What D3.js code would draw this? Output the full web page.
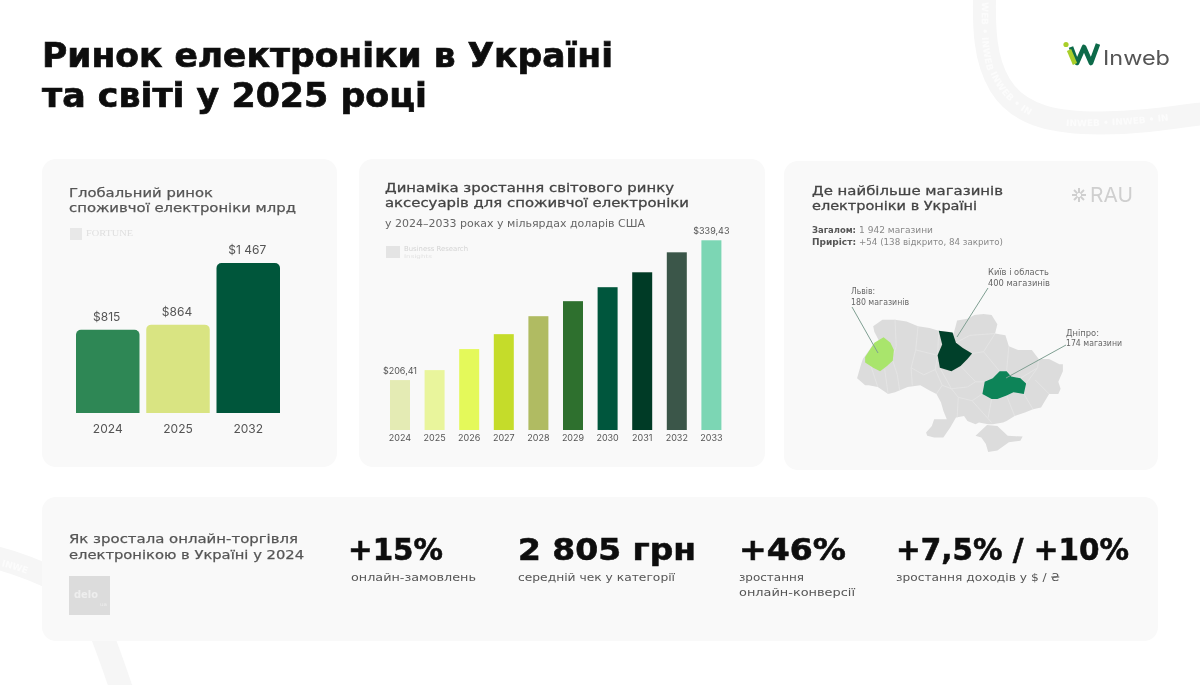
<!DOCTYPE html>
<html lang="uk"><head><meta charset="utf-8">
<script src="https://cdn.jsdelivr.net/npm/d3@7/dist/d3.min.js"></script>
<style>html,body{margin:0;padding:0;background:#fff;overflow:hidden}svg{display:block}text{font-family:"DejaVu Sans",sans-serif}</style>
</head><body><svg id="c" width="1200" height="685"></svg>
<script>
// ---- data ----
const globalYears = ["2024","2025","2032"];
const globalValues = [815,864,1467];
const globalLabels = ["$815","$864","$1 467"];
const globalColors = ["#2e8755","#d9e482","#03573b"];

const accYears = ["2024","2025","2026","2027","2028","2029","2030","2031","2032","2033"];
const accValues = [206.41,215.9,235.9,250.1,267.2,281.5,294.8,309,328,339.43];
const accLabels = ["$206,41","","","","","","","","","$339,43"];
const accColors = ["#e4ebb4","#e9f59c","#e4f95a","#c5dc2a","#b0bb62","#2f702f","#03573d","#053b27","#3b5749","#7bd6b4"];

const ukraineOutline = [[23.6,51.7],[24.4,52.05],[25.5,52.05],[26.5,51.95],[27.5,51.7],[28.5,51.6],[29.3,51.45],[30.2,51.4],[30.6,51.3],[30.9,52.0],[31.8,52.1],[32.4,52.3],[33.2,52.35],[33.9,52.3],[34.4,51.8],[34.2,51.3],[35.1,51.2],[35.4,50.6],[36.2,50.4],[37.4,50.4],[38.0,49.9],[38.9,49.9],[39.8,49.6],[40.1,49.6],[40.1,49.2],[39.7,48.6],[39.9,48.2],[39.7,47.9],[38.9,47.9],[38.2,47.1],[37.5,47.0],[36.8,46.8],[35.9,46.6],[35.2,46.3],[34.9,46.2],[34.0,46.1],[33.6,46.1],[32.8,46.2],[32.5,46.1],[31.8,46.3],[31.5,46.6],[30.8,46.5],[30.3,45.9],[29.7,45.3],[28.9,45.3],[28.3,45.4],[28.2,45.6],[28.7,46.0],[28.9,46.4],[30.0,46.4],[29.7,46.9],[29.5,47.4],[29.1,47.9],[28.5,48.1],[27.7,48.4],[26.6,48.3],[25.5,48.0],[24.9,47.9],[24.0,48.3],[23.2,48.4],[22.9,48.4],[22.2,48.8],[22.5,49.5],[22.7,49.9],[23.5,50.6],[24.1,50.9],[23.7,51.4],[23.6,51.7]];
const crimeaOutline = [[32.5,45.4],[33.5,46.05],[34.4,46.0],[35.3,45.4],[36.6,45.35],[36.4,45.1],[35.4,45.0],[34.4,44.5],[33.6,44.4],[33.4,44.9],[33.0,45.3],[32.5,45.4]];
const lvivOutline = [[23.7,50.8],[22.9,50.0],[22.9,49.7],[23.6,49.4],[24.2,49.2],[24.8,49.5],[25.3,49.8],[25.4,50.4],[25.1,50.8],[24.5,51.1],[23.7,50.8]];
const kyivOutline = [[29.3,51.45],[30.5,51.35],[30.8,50.8],[31.4,50.5],[32.2,50.2],[31.8,49.9],[31.2,49.5],[30.4,49.2],[29.4,49.4],[29.2,50.1],[29.6,50.7],[29.3,51.45]];
const dniproOutline = [[33.1,47.9],[33.3,48.6],[34.0,48.8],[34.6,49.2],[35.2,49.2],[35.6,48.9],[36.4,48.8],[36.9,48.5],[36.7,47.9],[35.8,48.0],[35.2,47.8],[34.4,47.6],[33.9,47.6],[33.1,47.9]];
const oblastBorders = [
 [[25.5,52.05],[25.6,50.6],[25.4,50.2]],[[27.5,51.7],[27.3,50.4],[26.9,49.4],[27.0,48.4]],[[25.3,49.8],[25.7,49.0],[25.9,48.1]],
 [[24.6,49.3],[24.9,47.9]],[[23.4,49.5],[24.0,48.3]],[[29.3,51.45],[29.2,50.1],[29.0,49.3],[29.6,48.4],[29.1,47.9]],
 [[27.3,50.4],[29.2,50.1]],[[26.9,49.4],[28.0,49.0],[29.0,49.3]],[[29.4,49.4],[30.4,48.2],[31.8,48.3],[32.5,48.6],[33.3,48.6]],
 [[29.6,48.4],[30.4,48.2],[31.0,47.7],[30.9,46.5]],[[31.0,47.7],[32.2,47.5],[33.1,47.9]],[[32.2,47.5],[33.9,46.2]],
 [[31.2,49.5],[32.5,48.6]],[[32.2,50.2],[33.2,50.3],[34.6,49.2]],[[30.8,50.8],[32.0,51.2],[34.2,51.3]],[[33.2,50.3],[34.2,51.3]],
 [[35.2,49.2],[35.4,50.6]],[[33.9,47.6],[33.6,46.5]],[[35.2,47.8],[35.9,46.6]],[[36.7,47.9],[37.5,47.0]],[[36.9,48.5],[37.9,49.4],[38.0,49.9]],
 [[36.4,48.8],[37.9,49.4]],[[37.7,48.7],[38.9,47.9]]];
const statValues = ["+15%","2 805 грн","+46%","+7,5% / +10%"];
const statCaptions = [["онлайн-замовлень"],["середній чек у категорії"],["зростання","онлайн-конверсії"],["зростання доходів у $ / ₴"]];

const svg = d3.select("#c");
const defs = svg.append("defs");
defs.append("filter").attr("id","soft").attr("x","-5%").attr("y","-5%").attr("width","110%").attr("height","110%")
  .append("feGaussianBlur").attr("stdDeviation",0.65);
const root = svg.append("g").attr("filter","url(#soft)");
root.append("rect").attr("width",1200).attr("height",685).attr("fill","#fff");

function txt(s,x,y,size,width,o={}){
  const t=root.append("text").attr("x",x).attr("y",y).attr("font-size",size)
    .attr("fill",o.fill||"#555").attr("font-weight",o.weight||400).attr("text-anchor",o.anchor||"start").text(s);
  if(o.family) t.style("font-family",o.family);
  if(o.stroke) t.attr("stroke",o.fill||"#555").attr("stroke-width",o.stroke);
  if(width) t.attr("textLength",width).attr("lengthAdjust","spacingAndGlyphs");
  return t;
}
// ---- watermark ribbons ----
const ribbonPaths=[
 "M985,-20 C983,30 985,60 1000,85 C1020,118 1060,123 1100,123 C1140,123 1170,118 1215,112",
 "M-10,556 C15,562 40,572 60,582",
 "M100,630 C108,650 115,670 125,700"
];
ribbonPaths.forEach(d=>root.append("path").attr("d",d).attr("fill","none").attr("stroke","#f6f6f6").attr("stroke-width",23));
// short runs of watermark text, each on its own short guide
const ribbonTexts=[
 {id:"t1",d:"M985,2 C984,30 985,52 990,68",s:"WEB  •  INWEB"},
 {id:"t2",d:"M993,72 C1005,100 1030,118 1062,122",s:"INWEB  •  IN"},
 {id:"t3",d:"M1066,123 C1110,124 1150,120 1196,114",s:"INWEB  •  INWEB  •  IN"},
 {id:"t4",d:"M2,563 C14,566 26,570 38,575",s:"INWE"}
];
ribbonTexts.forEach(r=>{
  defs.append("path").attr("id",r.id).attr("d",r.d);
  root.append("text").attr("font-size",9).attr("font-weight",700).attr("fill","#fcfcfc").attr("dy",3)
    .append("textPath").attr("href","#"+r.id).text(r.s);
});
// ---- heading ----
txt("Ринок електроніки в Україні",42,67,33,571,{fill:"#111",weight:700,stroke:0.7});
txt("та світі у 2025 році",42,107,33,385,{fill:"#111",weight:700,stroke:0.7});
// ---- logo ----
const logo=root.append("g");
logo.append("path").attr("d","M1071,47 L1077,63 L1084,47 L1091,63 L1098,44").attr("fill","none").attr("stroke","#0b6a4a").attr("stroke-width",4.6).attr("stroke-linejoin","round");
logo.append("path").attr("d","M1069,50 L1075,64").attr("fill","none").attr("stroke","#a9cf2a").attr("stroke-width",4.6);
logo.append("circle").attr("cx",1066).attr("cy",44.5).attr("r",2.6).attr("fill","#a9cf2a");
txt("Inweb",1103,65,20,67,{fill:"#555",family:"Inter"});
// ---- cards ----
[[42,159,295,308],[359,159,406,308],[784,161,374,309],[42,497,1116,144]].forEach(c=>{
  root.append("rect").attr("x",c[0]).attr("y",c[1]).attr("width",c[2]).attr("height",c[3]).attr("rx",14).attr("fill","#f9f9f9");
});
// ---- card 1 ----
txt("Глобальний ринок",69,197,13,144,{stroke:0.25});
txt("споживчої електроніки млрд",69,212,13,227,{stroke:0.25});
root.append("rect").attr("x",70).attr("y",228).attr("width",12).attr("height",12).attr("fill","#e8e8e8");
txt("FORTUNE",86,236,8,47,{fill:"#dedede",family:"Liberation Serif"});
const x1=d3.scaleBand().domain(globalYears).range([76,280]).paddingInner(0.096);
const y1=d3.scaleLinear().domain([0,1467]).range([413,263]);
const barTop=(x,w,y,b,r)=>{const p=d3.path();p.moveTo(x,b);p.lineTo(x,y+r);p.arcTo(x,y,x+r,y,r);p.lineTo(x+w-r,y);p.arcTo(x+w,y,x+w,y+r,r);p.lineTo(x+w,b);p.closePath();return p.toString();};
root.append("g").selectAll("path").data(globalYears).join("path")
  .attr("d",(d,i)=>barTop(x1(d),x1.bandwidth(),y1(globalValues[i]),y1(0),5))
  .attr("fill",(d,i)=>globalColors[i]);
root.append("g").selectAll("text").data(globalYears).join("text")
  .attr("x",d=>x1(d)+x1.bandwidth()/2-1).attr("y",(d,i)=>y1(globalValues[i])-9)
  .attr("text-anchor","middle").attr("font-size",12).attr("fill","#555").style("font-family","Inter")
  .text((d,i)=>globalLabels[i]);
const a1=root.append("g").attr("transform",`translate(0,${y1(0)})`).call(d3.axisBottom(x1).tickSize(0).tickPadding(11));
a1.select(".domain").remove();
a1.selectAll("text").attr("font-size",12).attr("fill","#555").style("font-family","Inter");
// ---- card 2 ----
txt("Динаміка зростання світового ринку",385,192,13,289,{fill:"#444",stroke:0.3});
txt("аксесуарів для споживчої електроніки",385,207,13,304,{fill:"#444",stroke:0.3});
txt("у 2024–2033 роках у мільярдах доларів США",385,227,10,260,{fill:"#666"});
root.append("rect").attr("x",386).attr("y",246).attr("width",14).attr("height",12).attr("fill","#e4e4e4");
txt("Business Research",404,251,7,64,{fill:"#d4d4d4"});
txt("Insights",404,258,5,28,{fill:"#e2e2e2"});
const x2=d3.scaleBand().domain(accYears).range([390,721.4]).paddingInner(0.422);
const y2=d3.scaleLinear().domain([158.9,339.43]).range([430,240.3]);
root.append("g").selectAll("rect").data(accYears).join("rect")
  .attr("x",d=>x2(d)).attr("width",x2.bandwidth()).attr("y",(d,i)=>y2(accValues[i]))
  .attr("height",(d,i)=>y2(158.9)-y2(accValues[i])).attr("fill",(d,i)=>accColors[i]);
root.append("g").selectAll("text").data(accYears).join("text")
  .attr("x",d=>x2(d)+x2.bandwidth()/2).attr("y",(d,i)=>y2(accValues[i])-6)
  .attr("text-anchor","middle").attr("font-size",9).attr("fill","#555").style("font-family","Inter")
  .text((d,i)=>accLabels[i]);
const a2=root.append("g").attr("transform",`translate(0,${y2(158.9)})`).call(d3.axisBottom(x2).tickSize(0).tickPadding(5));
a2.select(".domain").remove();
a2.selectAll("text").attr("font-size",9).attr("fill","#555").style("font-family","Inter");
// ---- card 3 ----
txt("Де найбільше магазинів",812,195,13,191,{fill:"#444",stroke:0.3});
txt("електроніки в Україні",812,210,13,165,{fill:"#444",stroke:0.3});
const rau=root.append("g").attr("stroke","#cfcfcf").attr("stroke-width",2);
d3.range(8).forEach(i=>{const a=i*Math.PI/4;rau.append("line").attr("x1",1079+2*Math.cos(a)).attr("y1",195+2*Math.sin(a)).attr("x2",1079+7*Math.cos(a)).attr("y2",195+7*Math.sin(a));});
txt("RAU",1090,202,20,43,{fill:"#cfcfcf",family:"Inter"});
txt("Загалом:",812,233,8,44,{fill:"#555",weight:700});
txt("1 942 магазини",859,233,8,74,{fill:"#888"});
txt("Приріст:",812,245,8,44,{fill:"#555",weight:700});
txt("+54 (138 відкрито, 84 закрито)",859,245,8,144,{fill:"#888"});
const proj=d3.geoMercator().fitExtent([[857,314],[1063,452]],{type:"GeometryCollection",geometries:[{type:"LineString",coordinates:ukraineOutline},{type:"LineString",coordinates:crimeaOutline}]});
const lineGeo=c=>d3.line().curve(d3.curveLinearClosed)(c.slice(0,-1).map(proj));
const openLine=d3.line();
root.append("path").attr("d",lineGeo(ukraineOutline)).attr("fill","#dcdcdc");
root.append("path").attr("d",lineGeo(crimeaOutline)).attr("fill","#dcdcdc");
root.append("g").selectAll("path").data(oblastBorders).join("path").attr("d",c=>openLine(c.map(proj)))
  .attr("fill","none").attr("stroke","#e6e6e6").attr("stroke-width",0.8);
[[lvivOutline,"#a9e56c"],[kyivOutline,"#063f2a"],[dniproOutline,"#0a8458"]].forEach(r=>{
  root.append("path").attr("d",lineGeo(r[0])).attr("fill",r[1]);
});
[[[852,307],[878,353]],[[988,288],[957,337]],[[1066,345],[1006,378]]].forEach(l=>{
  root.append("path").attr("d",openLine(l)).attr("stroke","#7f9f92").attr("stroke-width",1).attr("fill","none");
});
txt("Київ і область",988,275,8,61,{fill:"#666"});
txt("400 магазинів",988,286,8,62,{fill:"#666"});
txt("Львів:",851,294,8,24,{fill:"#666"});
txt("180 магазинів",851,305,8,58,{fill:"#666"});
txt("Дніпро:",1066,336,8,33,{fill:"#666"});
txt("174 магазини",1066,346,8,56,{fill:"#666"});
// ---- bottom ----
txt("Як зростала онлайн-торгівля",69,543,13,229,{fill:"#555",stroke:0.25});
txt("електронікою в Україні у 2024",69,559,13,235,{fill:"#555",stroke:0.25});
root.append("rect").attr("x",69).attr("y",576).attr("width",41).attr("height",39).attr("fill","#dcdcdc");
txt("delo",74,598,11,24,{fill:"#eee",weight:700});
txt("ua",100,606,5,7,{fill:"#eee"});
const statX=[348,518,739,896], statW=[95,178,107,233], capX=[351,518,739,896], capW=[[125],[157],[65,116],[164]];
statValues.forEach((s,i)=>{
  txt(s,statX[i],560,30,statW[i],{fill:"#111",weight:700,stroke:0.6});
  statCaptions[i].forEach((c,j)=>txt(c,capX[i],581+j*15,10.5,capW[i][j],{fill:"#555"}));
});
</script></body></html>
